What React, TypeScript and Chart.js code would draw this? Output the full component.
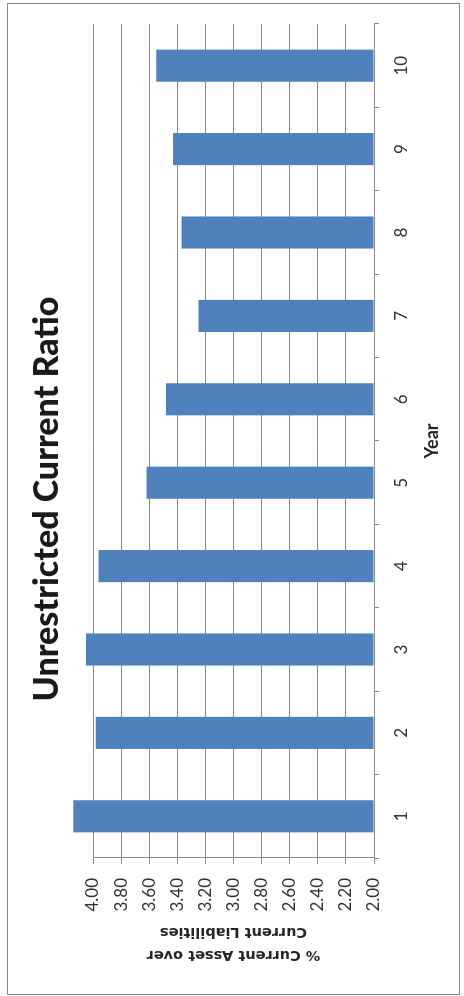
import { useEffect, useRef } from 'react';
import { Chart, registerables } from 'chart.js';

Chart.register(...registerables);

const categories = ['1', '2', '3', '4', '5', '6', '7', '8', '9', '10'];
const ratioValues = [4.14, 3.98, 4.05, 3.96, 3.62, 3.48, 3.25, 3.37, 3.43, 3.55];
const valueTicks = [2.0, 2.2, 2.4, 2.6, 2.8, 3.0, 3.2, 3.4, 3.6, 3.8, 4.0];
const chartTitle = 'Unrestricted Current Ratio';
const xAxisTitle = 'Year';
const yAxisTitle = ['% Current Asset over', 'Current Liabilities'];

const CHART_W = 992;
const CHART_H = 453;
const gridColor = '#8a8a8a';
const textColor = '#333333';
const barColor = '#4F81BD';

export default function App() {
  const canvasRef = useRef<HTMLCanvasElement | null>(null);

  useEffect(() => {
    const canvas = canvasRef.current;
    if (!canvas) return;
    const chart = new Chart(canvas, {
      type: 'bar',
      data: {
        labels: categories,
        datasets: [
          {
            data: ratioValues,
            backgroundColor: barColor,
            borderWidth: 0,
            base: 2,
            barPercentage: 0.385,
            categoryPercentage: 1,
            clip: false as any,
          } as any,
        ],
      },
      options: {
        animation: false,
        responsive: false,
        devicePixelRatio: 1,
        layout: { padding: 0 },
        plugins: {
          legend: { display: false },
          tooltip: { enabled: false },
          title: {
            display: true,
            text: chartTitle,
            color: '#1a1a1a',
            font: { family: 'Lato', size: 34, weight: '900' },
            padding: { top: 19.6, bottom: 25.6 },
          },
        },
        scales: {
          x: {
            type: 'category',
            offset: true,
            grid: {
              display: true,
              drawOnChartArea: false,
              drawTicks: true,
              tickLength: 5,
              offset: true,
              color: gridColor,
            },
            border: { display: true, color: gridColor, width: 1 },
            ticks: {
              color: textColor,
              font: { family: 'Lato', size: 17 },
              padding: 12,
              maxRotation: 0,
              autoSkip: false,
            },
            title: {
              display: true,
              text: xAxisTitle,
              color: '#262626',
              font: { family: 'Lato', size: 18, weight: 'bold' },
              padding: { top: 0, bottom: 17 },
            },
            afterFit: (s: any) => {
              s.height = 86;
            },
          },
          y: {
            min: 2,
            max: 4,
            afterBuildTicks: (s: any) => {
              s.ticks = valueTicks.map((v) => ({ value: v }));
            },
            grid: { color: gridColor, tickLength: 6, drawTicks: true },
            border: { display: true, color: gridColor, width: 1 },
            ticks: {
              color: textColor,
              font: { family: 'Lato', size: 17 },
              padding: 14,
              callback: (v: any) => Number(v).toFixed(2),
            },
            title: {
              display: true,
              text: yAxisTitle,
              color: '#262626',
              font: { family: 'DejaVu Sans', size: 14.5, weight: 'bold', lineHeight: 1.62 },
              padding: { top: 28.25, bottom: 0 },
            },
            afterFit: (s: any) => {
              s.width = 137;
            },
          },
          spacer: {
            type: 'linear',
            position: 'right',
            display: true,
            grid: { display: false, drawOnChartArea: false, drawTicks: false },
            border: { display: false },
            ticks: { display: false },
            afterFit: (s: any) => {
              s.width = 21;
            },
          },
        },
      },
    });
    return () => chart.destroy();
  }, []);

  return (
    <div
      style={{
        position: 'absolute',
        left: 7,
        top: 3,
        width: CHART_H,
        height: CHART_W,
      }}
    >
      <div
        style={{
          position: 'absolute',
          left: 0,
          top: 0,
          width: CHART_W,
          height: CHART_H,
          transformOrigin: '0 0',
          transform: `translateY(${CHART_W}px) rotate(-90deg)`,
          outline: `1px solid ${gridColor}`,
          outlineOffset: '-1px',
          background: '#fff',
        }}
      >
        <canvas ref={canvasRef} width={CHART_W} height={CHART_H} style={{ display: 'block' }} />
      </div>
    </div>
  );
}
